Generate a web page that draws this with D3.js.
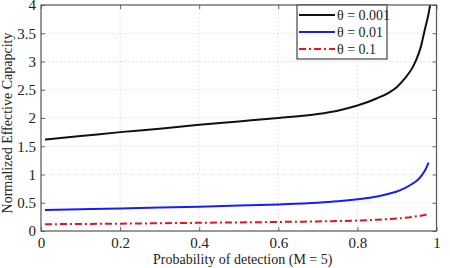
<!DOCTYPE html>
<html><head><meta charset="utf-8">
<script src="https://cdn.jsdelivr.net/npm/d3@7"></script>
<style>body{margin:0;background:#fff}svg{display:block}svg text{font-family:"Liberation Serif",serif}</style>
</head><body>
<script>
const xTicks = [0,0.2,0.4,0.6,0.8,1];
const xTickLabels = ["0","0.2","0.4","0.6","0.8","1"];
const yTicks = [0,0.5,1,1.5,2,2.5,3,3.5,4];
const yTickLabels = ["0","0.5","1","1.5","2","2.5","3","3.5","4"];
const seriesNames = ["θ = 0.001","θ = 0.01","θ = 0.1"];
const pBlack = [0.01,0.1,0.2,0.3,0.4,0.5,0.6,0.7,0.75,0.8,0.85,0.88,0.9,0.92,0.94,0.95,0.96,0.97,0.98,0.985];
const vBlack = [1.62,1.68,1.75,1.81,1.88,1.94,2.0,2.07,2.13,2.22,2.35,2.45,2.55,2.7,2.9,3.05,3.25,3.55,3.85,4.05];
const pBlue = [0.01,0.1,0.2,0.3,0.4,0.5,0.6,0.7,0.75,0.8,0.85,0.88,0.9,0.92,0.94,0.95,0.96,0.97,0.98];
const vBlue = [0.37,0.385,0.40,0.415,0.43,0.45,0.47,0.50,0.525,0.56,0.61,0.66,0.70,0.76,0.84,0.89,0.96,1.06,1.21];
const pRed = [0.01,0.2,0.4,0.6,0.7,0.8,0.85,0.9,0.94,0.96,0.98];
const vRed = [0.12,0.13,0.145,0.16,0.17,0.185,0.20,0.22,0.25,0.27,0.30];

const W=450,H=268, L=41,R=436.5,T=5,B=231;
const svg=d3.select("body").append("svg").attr("width",W).attr("height",H);
const x=d3.scaleLinear().domain([0,1]).range([L,R]);
const y=d3.scaleLinear().domain([0,4]).range([B,T]);
const font="'Liberation Serif',serif";

// grid
const g=svg.append("g");
g.selectAll(".gx").data(xTicks.slice(1,-1)).enter().append("line")
 .attr("x1",d=>x(d)).attr("x2",d=>x(d)).attr("y1",T).attr("y2",B)
 .attr("stroke","#d0d0d0").attr("stroke-width",1).attr("stroke-dasharray","1,3");
g.selectAll(".gy").data(yTicks.slice(1,-1)).enter().append("line")
 .attr("y1",d=>y(d)).attr("y2",d=>y(d)).attr("x1",L).attr("x2",R)
 .attr("stroke","#d0d0d0").attr("stroke-width",1).attr("stroke-dasharray","1,3");

// axes with inward ticks
const axB=d3.axisBottom(x).tickValues(xTicks).tickFormat((d,i)=>xTickLabels[i]).tickSizeInner(-4).tickSizeOuter(0).tickPadding(6);
const axL=d3.axisLeft(y).tickValues(yTicks).tickFormat((d,i)=>yTickLabels[i]).tickSizeInner(-4).tickSizeOuter(0).tickPadding(5);
const axT=d3.axisTop(x).tickValues(xTicks).tickFormat("").tickSizeInner(-4).tickSizeOuter(0);
const axR=d3.axisRight(y).tickValues(yTicks).tickFormat("").tickSizeInner(-4).tickSizeOuter(0);
function style(sel){sel.attr("font-family",null).attr("font-size",null);sel.select(".domain").remove();sel.selectAll("line").attr("stroke","#666");sel.selectAll("text").style("font-family",font).style("font-size","15px").attr("fill","#222");}
svg.append("g").attr("transform",`translate(0,${B})`).call(axB).call(style);
svg.append("g").attr("transform",`translate(${L},0)`).call(axL).call(style);
svg.append("g").attr("transform",`translate(0,${T})`).call(axT).call(style);
svg.append("g").attr("transform",`translate(${R},0)`).call(axR).call(style);

// clip
svg.append("clipPath").attr("id","c").append("rect").attr("x",L).attr("y",T).attr("width",R-L).attr("height",B-T);
const line=d3.line().x(d=>x(d[0])).y(d=>y(d[1])).curve(d3.curveMonotoneX);
const series=[
 {p:pBlack,v:vBlack,c:"#111",dash:null},
 {p:pBlue,v:vBlue,c:"#1a1aff",dash:null},
 {p:pRed,v:vRed,c:"#e8131b",dash:"7,3,2,3"}];
series.forEach(s=>{
 svg.append("path").attr("clip-path","url(#c)").datum(s.p.map((p,i)=>[p,s.v[i]]))
  .attr("d",line).attr("fill","none").attr("stroke",s.c).attr("stroke-width",2)
  .attr("stroke-dasharray",s.dash);
});

// border
svg.append("rect").attr("x",L).attr("y",T).attr("width",R-L).attr("height",B-T)
 .attr("fill","none").attr("stroke","#555").attr("stroke-width",1.2);

// legend
const lg=svg.append("g");
lg.append("rect").attr("x",297).attr("y",5).attr("width",90).attr("height",54)
 .attr("fill","#fff").attr("stroke","#444").attr("stroke-width",1.2);
series.forEach((s,i)=>{
 const yy=15+i*17;
 lg.append("line").attr("x1",299).attr("x2",335).attr("y1",yy).attr("y2",yy)
  .attr("stroke",s.c).attr("stroke-width",2).attr("stroke-dasharray",s.dash);
 lg.append("text").attr("x",337).attr("y",yy+4.5).text(seriesNames[i])
  .style("font-family",font).style("font-size","14px").attr("fill","#222");
});

// labels
svg.append("text").attr("x",(L+R)/2+4).attr("y",264).attr("text-anchor","middle")
 .style("font-family",font).style("font-size","14px").attr("fill","#222").text("Probability of detection (M = 5)");
svg.append("text").attr("transform",`translate(12,123) rotate(-90)`).attr("text-anchor","middle")
 .style("font-family",font).style("font-size","14px").attr("fill","#222").text("Normalized Effective Capapcity");
</script>
</body></html>
